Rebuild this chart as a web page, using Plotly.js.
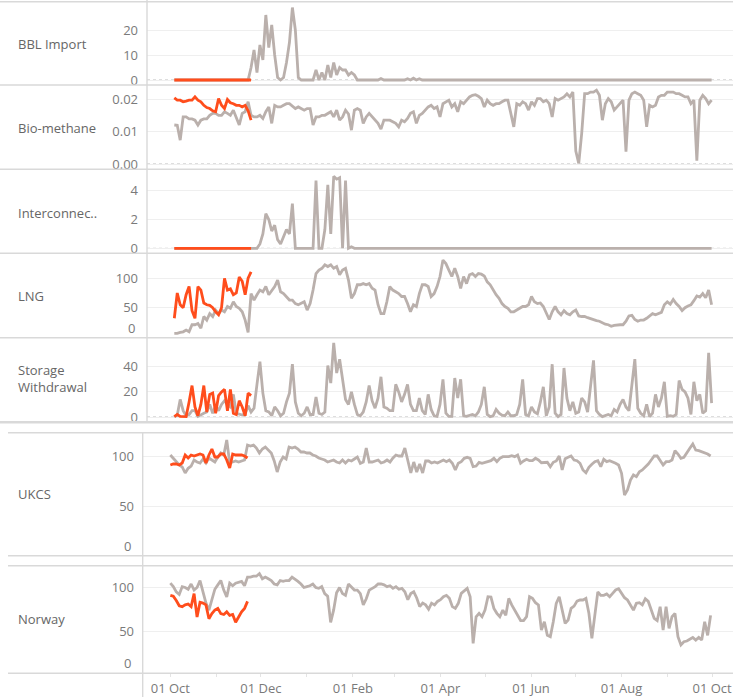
<!DOCTYPE html>
<html>
<head>
<meta charset="utf-8">
<script src="https://cdn.plot.ly/plotly-3.0.1.min.js"></script>
<style>
html,body{margin:0;padding:0;background:#ffffff;}
#chart{width:733px;height:697px;}
</style>
</head>
<body>
<div id="chart"></div>
<script>
// ---------- DATA ----------
// Grey = previous gas year, daily values sampled every 2 days from 01 Oct
// Orange = current year, same day-of-year positions, 01 Oct .. ~22 Nov
const START_DATE = '2020-10-01';
const STEP_DAYS = 2;

const rowLabels = ['BBL Import', 'Bio-methane', 'Interconnec..', 'LNG', 'Storage<br>Withdrawal', 'UKCS', 'Norway'];

const bblLastYear = [
0,0,0,0,0,0,0,0,0,0,
0,0,0,0,0,0,0,0,0,0,
0,0,0,0,0,0,
5,12,3,14,8,26,13,22,10,1,
0,1,7,15,29,20,1,0,0,0,
0,0,4,0,3,0,6,1,7,2,
5,4,4,2,3,2,
0,0,0,0,0,0,0,0,0.6,0,
0,0,0,0,0,0,0,0.5,0,0.7,
0,0.5,0,0,0,0,0,0,0,0,
0,0,0,0,0,0,0,0,0,0,
0,0,0,0,0,0,0,0,0,0,
0,0,0,0,0,0,0,0,0,0,
0,0,0,0,0,0,0,0,0,0,
0,0,0,0,0,0,0,0,0,0,
0,0,0,0,0,0,0,0,0,0,
0,0,0,0,0,0,0,0,0,0,
0,0,0,0,0,0,0,0,0,0,
0,0,0,0,0,0,0,0,0,0,
0
];
const bblThisYear = [0,0,0,0,0,0,0,0,0,0,0,0,0,0,0,0,0,0,0,0,0,0,0,0,0,0,0];

const bioLastYear = [
0.0121,0.0120,0.0074,0.0146,0.0146,0.0140,0.0140,0.0136,0.0121,0.0136,
0.0140,0.0140,0.0151,0.0157,0.0157,0.0151,0.0151,0.0162,0.0157,0.0151,
0.0167,0.0146,0.0121,0.0157,0.0162,0.0193,0.0151,0.0146,0.0146,0.0151,
0.0141,0.0162,0.0177,0.0126,0.0182,0.0177,0.0177,0.0182,0.0187,0.0187,
0.0179,0.0172,0.0177,0.0172,0.0167,0.0172,0.0172,0.0121,0.0146,0.0146,
0.0151,0.0151,0.0157,0.0162,0.0146,0.0167,
0.0136,0.0146,0.0167,0.0155,0.0105,0.0167,0.0172,0.0167,0.0126,0.0146,
0.0157,0.0146,0.0136,0.0126,0.0108,0.0136,0.0136,0.0136,0.0131,0.0126,
0.0115,0.0136,0.0131,0.0141,0.0157,0.0162,0.0126,0.0151,0.0157,0.0167,
0.0177,0.0182,0.0172,0.0177,0.0146,0.0187,0.0193,0.0198,0.0177,0.0187,
0.0162,0.0193,0.0187,0.0198,0.0208,0.0213,0.0215,0.0210,0.0203,0.0177,
0.0198,0.0187,0.0182,0.0187,0.0187,0.0193,0.0198,0.0198,0.0157,0.0115,
0.0187,0.0182,0.0193,0.0187,0.0167,0.0193,0.0182,0.0203,
0.0203,0.0193,0.0198,0.0187,0.0146,0.0203,0.0198,0.0203,0.0208,0.0218,
0.0208,0.0223,0.0040,0.0002,0.0095,0.0218,0.0218,0.0223,0.0223,0.0229,
0.0213,0.0136,0.0187,0.0203,0.0193,0.0167,0.0177,0.0187,0.0198,0.0038,
0.0198,0.0218,0.0223,0.0218,0.0213,0.0198,0.0115,0.0182,0.0177,0.0182,
0.0208,0.0213,0.0213,0.0223,0.0223,0.0223,0.0218,0.0218,0.0213,0.0208,
0.0208,0.0187,0.0198,0.0010,0.0198,0.0213,0.0203,0.0187,0.0198
];
const bioThisYear = [
0.0205,0.0198,0.0198,0.0193,0.0195,0.0198,0.0198,0.0208,0.0198,0.0193,
0.0182,0.0175,0.0172,0.0165,0.0162,0.0203,0.0182,0.0172,0.0200,0.0190,
0.0187,0.0182,0.0182,0.0177,0.0182,0.0165,0.0136
];

const interLastYear = [
0,0,0,0,0,0,0,0,0,0,
0,0,0,0,0,0,0,0,0,0,
0,0,0,0,0,0,0,0,0,
0.3,1.0,2.4,2.0,1.2,1.6,0.6,0.3,0.8,1.3,
1.0,3.1,0,0,0,0,0,0,0,4.7,
0,0,1.3,4.4,1.0,5.0,4.8,4.9,0,4.7,
0,0.1,
0,0,0,0,0,0,0,0,0,0,
0,0,0,0,0,0,0,0,0,0,
0,0,0,0,0,0,0,0,0,0,
0,0,0,0,0,0,0,0,0,0,
0,0,0,0,0,0,0,0,0,0,
0,0,0,0,0,0,0,0,0,0,
0,0,0,0,0,0,0,0,0,0,
0,0,0,0,0,0,0,0,0,0,
0,0,0,0,0,0,0,0,0,0,
0,0,0,0,0,0,0,0,0,0,
0,0,0,0,0,0,0,0,0,0,
0,0,0,0,0,0,0,0,0,0,
0,0
];
const interThisYear = [0,0,0,0,0,0,0,0,0,0,0,0,0,0,0,0,0,0,0,0,0,0,0,0,0,0,0];

const lngLastYear = [
6.4,6.4,8,9,12,9,21,21,23,15,
35,29,40,35,46,40,46,43,52,49,
60,52,49,43,29,8,74,63,72,80,
77,86,72,80,86,97,77,74,69,63,
63,57,55,57,60,46,57,80,108,114,
117,123,120,123,117,120,106,114,
117,97,66,74,89,89,91,89,91,83,
80,55,40,40,60,86,80,77,74,69,
69,57,43,55,52,74,89,89,86,69,
74,86,103,131,125,114,103,117,103,83,
103,91,106,108,103,108,107,104,94,89,
80,72,66,57,52,49,43,43,46,49,
52,52,55,69,60,57,
58,52,40,30,43,52,43,38,45,40,
38,43,46,36,35,35,33,31,29,28,
27,24,22,21,18.5,20,21,21,21,27,
36,37,30,27,29,29,32,36,40,38,
40,42,55,60,56,64,57,52,45,50,
53,55,62,70,68,74,67,80,55
];
const lngThisYear = [
32,75,55,50,72,86,45,32,86,80,
58,55,54,50,43,38,50,100,80,82,
72,75,102,95,72,100,111
];

const storageLastYear = [
0.2,1.5,14,5,1,2,5,5,0.5,2,
3,4,10,3,9,5,10,13,10,8,
18,3,2,1.5,2.5,9,4,7,26,44,
19,5,4,1,8,5,1,3,12,19,
42,12,3,1,3,8,2,2,16,3,
2,4,41,27,59,35,46,31,
14,10,20,10,2,1,4,12,25,13,
7,15,32,8,7,5,5,26,20,12,
18,26,10,5,5,15,5,2,18,6,
1,0.5,10,30,3,0.5,0.5,31,15,30,
1,0.5,1,2,1,4,10,24,2,0.3,
1,6,3,1.5,1,4,1,1,2,10,
30,2,1,8,4,2.5,
12,24,1,8,42,3,0.3,2,39,15,
5,12,3,4,15,12,4,25,45,5,
2,0.3,1,2,1,6,4,10,14,8,
5,24,46,7,3,1,10,0.3,3,18,
8,15,28,0.5,1,0.5,2,29,22,20,
15,2,28,13,18,3,5,51,11
];
const storageThisYear = [
0.3,2,0.5,0.5,0.3,12,25,8,1,10,
25,4,18,19,3,17,20,22,5,22,
3,2,13,8,1,19,17
];

const ukcsLastYear = [
101,97.7,94,91,89,83,87.7,90,96,94,
93,97,93,98,96,94,99,103,101,116,
93,94,95,94,95,96,111,110,111,108,
103,107,109,106,103,95,84,94,99,97,
109,108,109,107,104,104,103,103,101,100,
98,97,96,94,95,96,94,93,96,93,
96,95,97,99,92.7,94,108,94,94,95,
96,93,94,96,94,98,101,100,100,108,
94,83,94,84,92,83,95,95,93,94,
93,
94.3,96,94.3,96,92.7,86,92.7,94.3,97.7,98.7,
97.7,89.3,90,93.7,92.7,93.7,94.3,95.3,97.7,94.3,
97.7,99.3,99.3,99.3,100.3,99.3,101,92.7,95,96.7,
95.3,95.3,97.7,96,93.3,93.3,93.7,89.3,93.7,95,
100,86,97.3,98.7,100,96,95.3,92.7,86,83.3,
88.7,91.7,94.3,95.3,89.3,96.7,94.3,95.3,94.3,92.7,
91,82.7,61,66,76,81,79.3,84.3,86,88.7,
92,96,100,100,95.3,91,94.3,94.3,96,105.3,
102,97.7,98.7,102.7,107.7,112,106,105.3,104.3,103.3,
102,100
];
const ukcsThisYear = [
91,92,92,91,93,101,98,101,100,101,
102,101,93,101,107,99,99,102,102,96,
88,102,101,101,101,100,98
];

const norwayLastYear = [
105,101,95,92,101,100,98,104,97,100,
108,95,82,74,85,98,103,108,97,89,
105,102,105,106,107,102,112,112,113,113,
116,110,112,110,108,104,103,108,107,108,
108,112,110,107,104,100,101,102,104,100,
99,101,93,90,60,74,94,100,93,91,
104,101,97,97,93,80,87,97,99,101,
104,104,103,101,102,99,101,98,99,95,
86,93,95,88,78,82,80,75,82,80,
84,
86,89.4,91,87.5,78,76,81.8,93.3,96,99,
89.4,35.8,66.4,70.3,66.4,74,89.4,89,76,70.3,
66.4,74,68,87.5,80,74,67,62,62,66.4,
89.4,87.5,82.5,80,51.1,60.7,45,43.4,60.7,81.8,
89.4,72,58.8,62.6,76,78.6,84.4,85.6,85.6,87.5,
70.3,41.5,66.4,95,91,91,92.5,89.4,93.3,97.1,
98.6,93.3,88.3,85.6,80,74,81.8,82.5,80,87,
84,74,64.5,62,77.9,51.1,77.9,53,66.4,70.3,
43.4,34,37.7,38.5,40.4,42.6,39.6,42.6,39.6,60.7,
45,68
];
const norwayThisYear = [
91,90,85,79,78,80,81,78,93,66,
83,82,80,64,70,74,76,70,69,72,
68,69,60,66,72,76,84
];

// ---------- STYLE / LAYOUT ----------
const W = 733, H = 697;
const GREY = '#bab0ac';
const ORANGE = '#ff4d1c';
const FONT = 'Open Sans, Lato, sans-serif';
const TICK_COLOR = '#7a7a7a';
const LABEL_COLOR = '#666666';
const RULE = '#d9d9d9';

const px = p => p / W;
const py = p => 1 - p / H;
const dom = (top, bottom) => [py(bottom), py(top)];

function dayDates(n) {
  const base = Date.parse(START_DATE + 'T00:00:00Z');
  const out = [];
  for (let i = 0; i < n; i++) {
    out.push(new Date(base + i * STEP_DAYS * 86400000).toISOString().slice(0, 10));
  }
  return out;
}

const panels = [
  {ax:'y',  xa:'x',  top:3,     bottom:84,    range:[-1.6, 30.8],        tickvals:[0,10,20],        grey:bblLastYear,     orange:bblThisYear,     labelY:44,  dots:true},
  {ax:'y2', xa:'x',  top:86,    bottom:168.3, range:[-0.00133, 0.02419], tickvals:[0,0.01,0.02],    grey:bioLastYear,     orange:bioThisYear,     labelY:128, dots:true, fmt:'.2f'},
  {ax:'y3', xa:'x',  top:170.3, bottom:252.3, range:[-0.278, 5.417],     tickvals:[0,2,4],          grey:interLastYear,   orange:interThisYear,   labelY:213, dots:true},
  {ax:'y4', xa:'x',  top:254.3, bottom:336.7, range:[0.68, 140.8],       tickvals:[50,100],         grey:lngLastYear,     orange:lngThisYear,     labelY:296, zeroLabelY:328, zeroLabelX:137},
  {ax:'y5', xa:'x',  top:338.7, bottom:420.7, range:[-2.94, 62.3],       tickvals:[0,20,40],        grey:storageLastYear, orange:storageThisYear, labelY:379, dots:true},
  {ax:'y6', xa:'x2', top:433.7, bottom:554.7, range:[1.3, 122.3],        tickvals:[50,100],         grey:ukcsLastYear,    orange:ukcsThisYear,    labelY:494, zeroLabelY:546, zeroLabelX:133},
  {ax:'y7', xa:'x2', top:566.7, bottom:672.3, range:[2.53, 123.9],       tickvals:[50,100],         grey:norwayLastYear,  orange:norwayThisYear,  labelY:619, zeroLabelY:663, zeroLabelX:133}
];

const traces = [];
const layout = {
  width: W, height: H,
  margin: {l:0, r:0, t:0, b:0, pad:0},
  paper_bgcolor: '#ffffff',
  plot_bgcolor: '#ffffff',
  showlegend: false,
  font: {family: FONT, size: 13, color: TICK_COLOR},
  shapes: [],
  annotations: [],
  xaxis: {
    domain: [px(147), 1], anchor: 'y5', type: 'date',
    range: ['2020-09-12 12:00', '2021-10-14 12:00'],
    visible: false, fixedrange: true
  },
  xaxis2: {
    domain: [px(143), 1], anchor: 'y7', type: 'date',
    range: ['2020-09-12 14:00', '2021-10-15 02:00'],
    showgrid: false, zeroline: false, showline: false,
    tickformat: '%d %b', dtick: 'M2', tick0: '2020-10-01',
    ticks: 'outside', ticklen: 4, tickwidth: 1, tickcolor: '#e4e4e4',
    minor: {dtick: 'M1', tick0: '2020-10-01', ticks: 'outside', ticklen: 4, tickcolor: '#e4e4e4', showgrid: false},
    tickfont: {family: FONT, size: 13, color: TICK_COLOR},
    fixedrange: true
  }
};

panels.forEach((p, i) => {
  const key = p.ax === 'y' ? 'yaxis' : 'yaxis' + p.ax.slice(1);
  layout[key] = {
    domain: dom(p.top, p.bottom), anchor: p.xa, range: p.range,
    tickvals: p.tickvals, tickformat: p.fmt || '',
    showgrid: true, gridcolor: '#efefef', gridwidth: 1,
    zeroline: false, showline: false, ticks: '',
    ticklabelstandoff: 8,
    tickfont: {family: FONT, size: 13, color: TICK_COLOR},
    fixedrange: true
  };
  traces.push({
    x: dayDates(p.grey.length), y: p.grey, xaxis: p.xa, yaxis: p.ax,
    type: 'scatter', mode: 'lines', hoverinfo: 'skip',
    line: {color: GREY, width: 2.8}
  });
  traces.push({
    x: dayDates(p.orange.length), y: p.orange, xaxis: p.xa, yaxis: p.ax,
    type: 'scatter', mode: 'lines', hoverinfo: 'skip',
    line: {color: ORANGE, width: 2.8}
  });
  if (p.dots) {
    layout.shapes.push({type:'line', xref:'paper', yref:p.ax, x0:px(147), x1:1, y0:0, y1:0,
      line:{color:'#bdbdbd', width:1, dash:'dot'}, layer:'below'});
  }
  if (p.zeroLabelY) {
    layout.annotations.push({xref:'paper', yref:'paper', x:px(p.zeroLabelX), y:py(p.zeroLabelY),
      xanchor:'right', yanchor:'middle', text:'0', showarrow:false,
      font:{family:FONT, size:13, color:TICK_COLOR}});
  }
  layout.annotations.push({xref:'paper', yref:'paper', x:px(16), y:py(p.labelY),
    xanchor:'left', yanchor:'middle', align:'left', text: rowLabels[i], showarrow:false,
    font:{family:FONT, size:13, color:LABEL_COLOR}});
});

// separator rules (top sheet full width, bottom sheet from x=8)
[1.7, 85, 169.3, 253.3, 337.7, 421.7, 422.7].forEach(y => {
  layout.shapes.push({type:'line', xref:'paper', yref:'paper', x0:0, x1:1, y0:py(y), y1:py(y),
    line:{color:RULE, width:1.6}, layer:'above'});
});
[432.7, 555.7, 565.7, 673.3].forEach(y => {
  layout.shapes.push({type:'line', xref:'paper', yref:'paper', x0:px(8), x1:1, y0:py(y), y1:py(y),
    line:{color:RULE, width:1.6}, layer:'above'});
});
// vertical axis rules
layout.shapes.push({type:'line', xref:'paper', yref:'paper', x0:px(147), x1:px(147), y0:py(0), y1:py(422),
  line:{color:RULE, width:1.4}, layer:'above'});
layout.shapes.push({type:'line', xref:'paper', yref:'paper', x0:px(142.7), x1:px(142.7), y0:py(432.7), y1:py(697),
  line:{color:RULE, width:1.4}, layer:'above'});

Plotly.newPlot('chart', traces, layout, {staticPlot: true, displayModeBar: false});
</script>
</body>
</html>
